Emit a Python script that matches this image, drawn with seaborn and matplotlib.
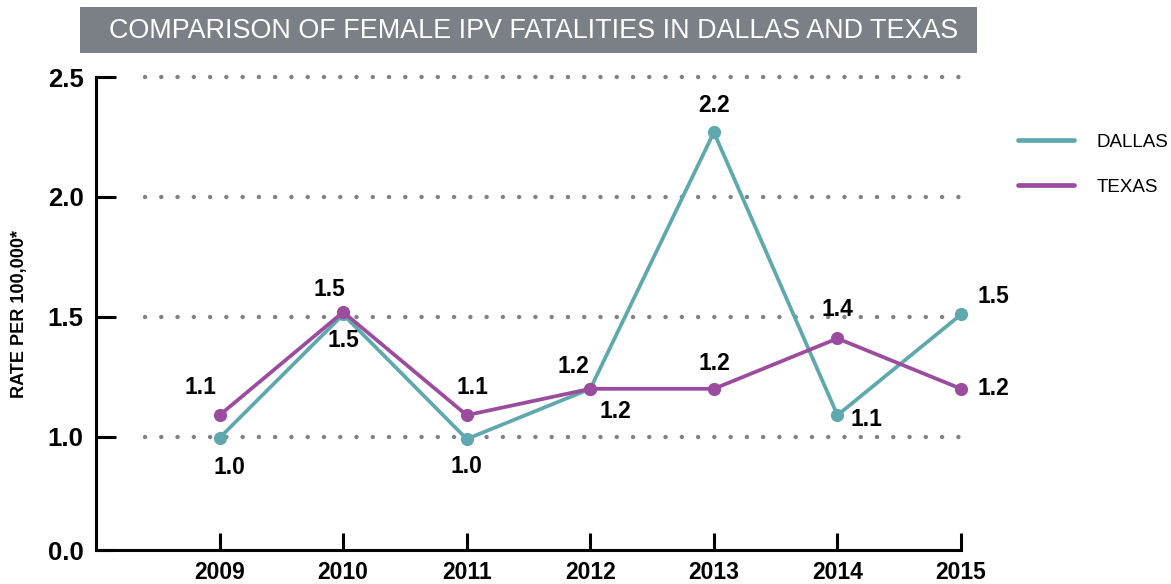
import numpy as np
import pandas as pd
import seaborn as sns
import matplotlib.pyplot as plt
from matplotlib.lines import Line2D
from matplotlib.patches import Rectangle

years = [2009, 2010, 2011, 2012, 2013, 2014, 2015]
dallas = [0.99, 1.51, 0.98, 1.20, 2.27, 1.09, 1.51]
texas = [1.09, 1.52, 1.09, 1.20, 1.20, 1.41, 1.20]
dallas_labels = ["1.0", "1.5", "1.0", "1.2", "2.2", "1.1", "1.5"]
texas_labels = ["1.1", "1.5", "1.1", "1.2", "1.2", "1.4", "1.2"]
series_names = ["DALLAS", "TEXAS"]
y_ticks = [0.0, 1.0, 1.5, 2.0, 2.5]
title = "COMPARISON OF FEMALE IPV FATALITIES IN DALLAS AND TEXAS"
y_title = "RATE PER 100,000*"

TEAL = "#5fa8ad"
PURPLE = "#9b4c9f"
GRID = "#7d8288"

df = pd.DataFrame({
    "year": years * 2,
    "rate": dallas + texas,
    "series": ["DALLAS"] * len(years) + ["TEXAS"] * len(years),
})

sns.set_style("white")
plt.rcParams["font.family"] = ["Liberation Sans", "DejaVu Sans"]

fig = plt.figure(figsize=(11.71, 5.84), dpi=100)
ax = fig.add_axes([0.082, 0.058, 0.7387, 0.81])

# y axis squeezed below 1.0, linear from 1.0 to 2.5
k = 113 / 239
def fwd(y):
    y = np.asarray(y, dtype=float)
    return np.where(y < 1, y * k, k + (y - 1))
def inv(z):
    z = np.asarray(z, dtype=float)
    return np.where(z < k, z / k, z - k + 1)
ax.set_yscale("function", functions=(fwd, inv))

ax.set_xlim(2008.0, 2015)
ax.set_ylim(0, 2.5)

# dotted gridlines
for t in y_ticks[1:]:
    ax.plot([2008.4, 2015], [t, t], color=GRID, lw=3.2,
            linestyle=(0, (0.01, 3.65)), dash_capstyle="round", zorder=1, clip_on=False)

sns.lineplot(data=df, x="year", y="rate", hue="series", palette=[TEAL, PURPLE],
             hue_order=["DALLAS", "TEXAS"], marker="o", markersize=9.5, markeredgewidth=0,
             linewidth=2.7, legend=False, ax=ax, zorder=3)
for ln in ax.lines:
    ln.set_clip_on(False)

# data labels
lab_kw = dict(textcoords="offset points", ha="center", va="center",
              fontsize=16.5, fontweight="bold", color="black", zorder=5)
d_off = [(7, -21), (0, -19), (0, -20), (18, -16), (0, 19), (21, -3), (23, 13)]
t_off = [(-14, 20), (-10, 16), (4, 20), (-12, 16), (0, 18), (0, 21), (23, 0)]
for x, y, s, o in zip(years, dallas, dallas_labels, d_off):
    ax.annotate(s, (x, y), xytext=o, **lab_kw)
for x, y, s, o in zip(years, texas, texas_labels, t_off):
    ax.annotate(s, (x, y), xytext=o, **lab_kw)

ax.set_xticks(years)
ax.set_xticklabels([str(y) for y in years], fontsize=16.5, fontweight="bold")
ax.set_yticks(y_ticks)
ax.set_yticklabels([f"{t:.1f}" for t in y_ticks], fontsize=18.5, fontweight="bold")
ax.yaxis.set_minor_locator(plt.NullLocator())
ax.tick_params(axis="both", direction="in", width=2.2, color="black",
               labelcolor="black", left=True, bottom=True)
ax.tick_params(axis="x", pad=8, length=12)
ax.tick_params(axis="y", pad=9, length=14.5)
ax.set_xlabel("")
ax.set_ylabel(y_title, fontsize=13, fontweight="bold", labelpad=14, color="black")

for side in ["top", "right"]:
    ax.spines[side].set_visible(False)
for side in ["left", "bottom"]:
    ax.spines[side].set_color("black")
    ax.spines[side].set_linewidth(2.2)

# title box
fig.patches.append(Rectangle((80 / 1171, 1 - 53 / 584), 897 / 1171, 46 / 584,
                             transform=fig.transFigure, facecolor="#7b8086",
                             edgecolor="none", zorder=0))
ttl = fig.text(534 / 1171, 1 - 31 / 584, title, ha="center", va="center",
               color="white", fontsize=20)
fig.canvas.draw()
w = ttl.get_window_extent().width
ttl.set_fontsize(20 * 848 / w)

handles = [Line2D([], [], color=TEAL, lw=3.4), Line2D([], [], color=PURPLE, lw=3.4)]
fig.legend(handles, series_names, loc="upper left", bbox_to_anchor=(1010 / 1171, 1 - 126 / 584),
           frameon=False, fontsize=13.5, handlelength=3.0, handletextpad=1.2,
           labelspacing=1.5, borderaxespad=0, labelcolor="black")

fig.savefig("out.png", dpi=100)
